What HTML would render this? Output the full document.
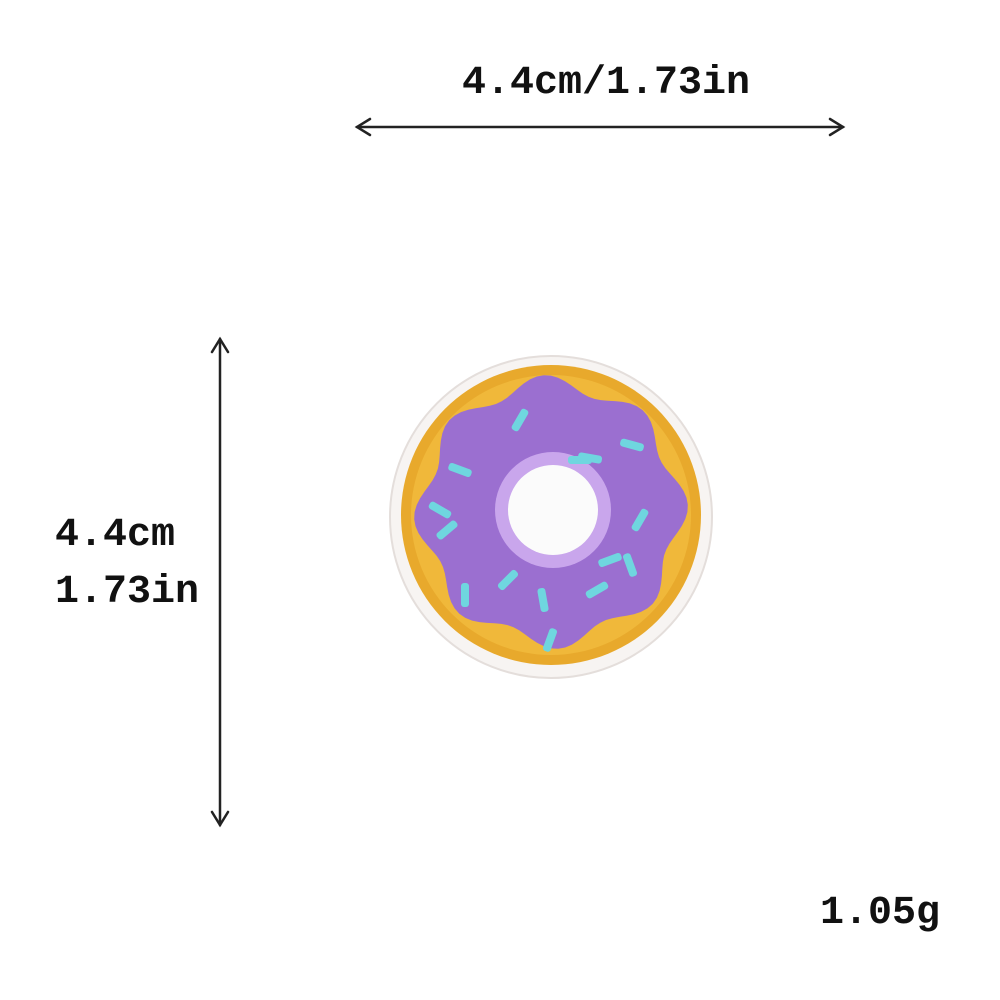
<!DOCTYPE html>
<html><head><meta charset="utf-8"><style>
html,body{margin:0;padding:0;background:#fff;}
#root{position:relative;width:1000px;height:1000px;overflow:hidden;background:#fff;}
.t{position:absolute;font-family:"Liberation Mono",monospace;font-weight:bold;font-size:40px;color:#111;white-space:nowrap;line-height:1;}
svg{position:absolute;left:0;top:0;}
</style></head><body>
<div id="root">
<svg width="1000" height="1000">
  <g stroke="#222" stroke-width="2.5" fill="none" stroke-linecap="round">
    <g>
      <line x1="357" y1="127" x2="843" y2="127"/>
      <polyline points="370,119 357,127 370,135"/>
      <polyline points="830,119 843,127 830,135"/>
    </g>
    <g>
      <line x1="220" y1="339" x2="220" y2="825"/>
      <polyline points="212,352 220,339 228,352"/>
      <polyline points="212,812 220,825 228,812"/>
    </g>
  </g>
  <g>
    <circle cx="551" cy="517" r="161" fill="#f7f4f2" stroke="#e4dedb" stroke-width="2"/>
    <circle cx="551" cy="515" r="150" fill="#e8a92c"/>
    <circle cx="551" cy="515" r="140" fill="#f0b83a"/>
    <path id="icing" fill="#9b6fd0"/>
    <circle cx="553" cy="510" r="58" fill="#c9a6ec"/>
    <circle cx="553" cy="510" r="45" fill="#fbfbfb"/>
    <g id="sprinkles" fill="#6fd6df"></g>
  </g>
</svg>
<div class="t" style="left:462px;top:64px;">4.4cm/1.73in</div>
<div class="t" style="left:55px;top:516px;">4.4cm</div>
<div class="t" style="left:55px;top:573px;">1.73in</div>
<div class="t" style="left:820px;top:894px;">1.05g</div>
</div>
<script>
var cx=551,cy=512,d='';
for(var i=0;i<=360;i+=3){var a=i*Math.PI/180;var r=129+8*Math.cos(8*a+0.4);
d+=(i?'L':'M')+(cx+r*Math.cos(a)).toFixed(1)+','+(cy+r*Math.sin(a)).toFixed(1);}
document.getElementById('icing').setAttribute('d',d+'Z');
var sx=[460,520,632,590,447,440,508,543,597,640,630,550,580,465,610];
var sy=[470,420,445,458,530,510,580,600,590,520,565,640,460,595,560];
var sa=[20,-60,15,10,-40,30,-45,80,-30,-60,70,-70,0,90,-20];
var g=document.getElementById('sprinkles');
for(var k=0;k<sx.length;k++){var r=document.createElementNS('http://www.w3.org/2000/svg','rect');
r.setAttribute('x',sx[k]-12);r.setAttribute('y',sy[k]-4);r.setAttribute('width',24);r.setAttribute('height',8);r.setAttribute('rx',3);
r.setAttribute('transform','rotate('+sa[k]+' '+sx[k]+' '+sy[k]+')');


g.appendChild(r);}
</script>
</body></html>
